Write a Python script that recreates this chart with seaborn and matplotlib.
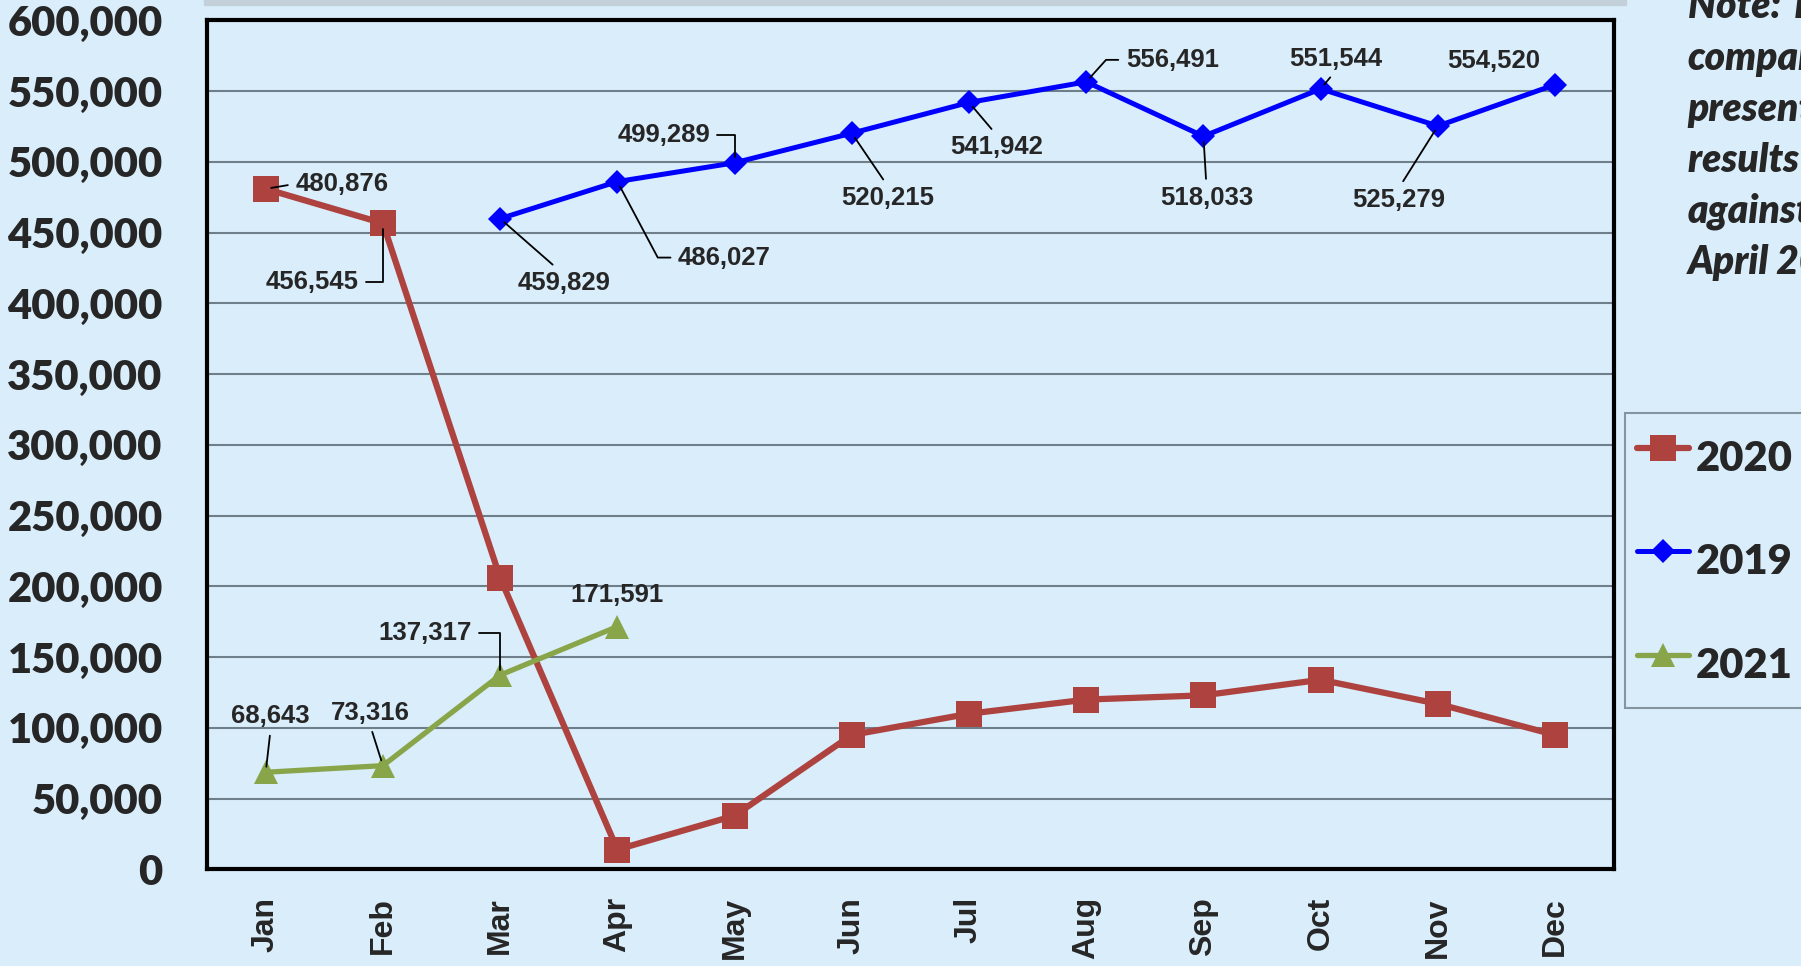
import numpy as np
import pandas as pd
import matplotlib
matplotlib.use("Agg")
import matplotlib.pyplot as plt
import seaborn as sns

months = ["Jan", "Feb", "Mar", "Apr", "May", "Jun",
          "Jul", "Aug", "Sep", "Oct", "Nov", "Dec"]
v2020 = [480876, 456545, 206000, 14000, 38000, 95000,
         110000, 120000, 123000, 134000, 117000, 95000]
v2019 = [np.nan, np.nan, 459829, 486027, 499289, 520215,
         541942, 556491, 518033, 551544, 525279, 554520]
v2021 = [68643, 73316, 137317, 171591] + [np.nan] * 8
yticks = list(range(0, 600001, 50000))

# which points get a value label (month index -> text offset in px, leader style)
labels_2020 = {0: (76, 5, (0, 0.5), None), 1: (-71, -59, (1, 0.5), "angle,angleA=0,angleB=90")}
labels_2019 = {
    2: (64, -64, (0.45, 1), None),
    3: (107, -76, (0, 0.5), "angle,angleA=0,angleB=-62"),
    4: (-71, 28, (1, 0.5), "angle,angleA=0,angleB=90"),
    5: (36, -65, (0.5, 1), None),
    6: (28, -45, (0.5, 1), None),
    7: (86, 22, (0, 0.5), "angle,angleA=0,angleB=48"),
    8: (3, -62, (0.5, 1), None),
    9: (15, 30, (0.5, 0), None),
    10: (-39, -74, (0.5, 1), None),
    11: (-61, 24, None, None),
}
labels_2021 = {
    0: (5, 56, (0.5, 0), None),
    1: (-13, 53, (0.5, 0), None),
    2: (-75, 42, (1, 0.5), "angle,angleA=0,angleB=90"),
    3: (0, 32, None, None),
}

bg = "#D9EDFB"
sns.set_style("white")
plt.rcParams["font.family"] = ["Liberation Sans", "DejaVu Sans"]

fig = plt.figure(figsize=(18.01, 9.66), dpi=100, facecolor=bg)
ax = fig.add_axes([0.115, 0.100, 0.781, 0.879])
ax.set_facecolor(bg)

# faint shadow strip at the top (title box edge)
fig.patches.append(plt.Rectangle((0.113, 0.995), 0.79, 0.01, transform=fig.transFigure,
                                 color="#C4D0D9", zorder=0))

x = np.arange(len(months))
df = pd.DataFrame({"m": x, "2020": v2020, "2019": v2019, "2021": v2021})

sns.lineplot(data=df, x="m", y="2020", ax=ax, color="#AD423F", lw=4.5,
             marker="s", markersize=19, markeredgewidth=0, label="2020", zorder=3)
sns.lineplot(data=df, x="m", y="2019", ax=ax, color="#0000FF", lw=3.6,
             marker="D", markersize=12, markeredgewidth=0, label="2019", zorder=4)
sns.lineplot(data=df, x="m", y="2021", ax=ax, color="#89A54A", lw=3.8,
             marker="^", markersize=17, markeredgewidth=0, label="2021", zorder=5)

ax.set_xlim(-0.5, 11.5)
ax.set_ylim(0, 600000)
ax.set_yticks(yticks)
ax.set_yticklabels([f"{v:,}" for v in yticks], fontsize=30, fontweight="heavy",
                   family=["Lato", "DejaVu Sans"])
ax.set_xticks(x)
ax.set_xticklabels(months, rotation=90, fontsize=23, fontweight="bold")
ax.set_xticks(np.arange(0.5, 11, 1), minor=True)
ax.tick_params(axis="x", which="major", length=0, pad=20)
ax.tick_params(axis="x", which="minor", direction="in", length=8, width=1.5, color="#6F7F8A")
ax.tick_params(axis="y", direction="in", length=8, width=1.5, color="#4A5660", pad=32)
ax.set_xlabel("")
ax.set_ylabel("")
ax.grid(axis="y", color="#6F7F8A", lw=1.5)
ax.set_axisbelow(True)
for s in ax.spines.values():
    s.set_linewidth(3)
    s.set_color("black")


def add_labels(vals, spec):
    for i, (dx, dy, rel, conn) in spec.items():
        ap = None
        if rel is not None:
            ap = dict(arrowstyle="-", color="black", lw=1.3, relpos=rel,
                      shrinkA=3, shrinkB=4, connectionstyle=conn or "arc3")
        ax.annotate(f"{vals[i]:,}", xy=(x[i], vals[i]), xytext=(dx, dy),
                    textcoords="offset pixels", ha="center", va="center",
                    fontsize=18.5, fontweight="bold", arrowprops=ap, zorder=6)


add_labels(v2020, labels_2020)
add_labels(v2019, labels_2019)
add_labels(v2021, labels_2021)

ax.get_legend().remove()
h, l = ax.get_legend_handles_labels()
leg = fig.legend(h, l, loc="upper left", bbox_to_anchor=(0.9025, 0.572),
                 borderaxespad=0, frameon=True, fancybox=False, facecolor=bg,
                 edgecolor="#6F7F8A", handlelength=1.25, handleheight=2.0,
                 handletextpad=0.15, labelspacing=0.94, borderpad=0.28,
                 prop={"family": ["Lato", "DejaVu Sans"], "weight": "heavy", "size": 30})
leg.get_frame().set_linewidth(1.5)

fig.text(0.937, 1.012, "Note: The\ncomparison\npresented\nresults of\nagainst\nApril 2020",
         ha="left", va="top", fontsize=28, fontweight="heavy", style="italic",
         linespacing=1.47, family=["Lato", "DejaVu Sans"])

fig.savefig("out.png", dpi=100, facecolor=bg)
